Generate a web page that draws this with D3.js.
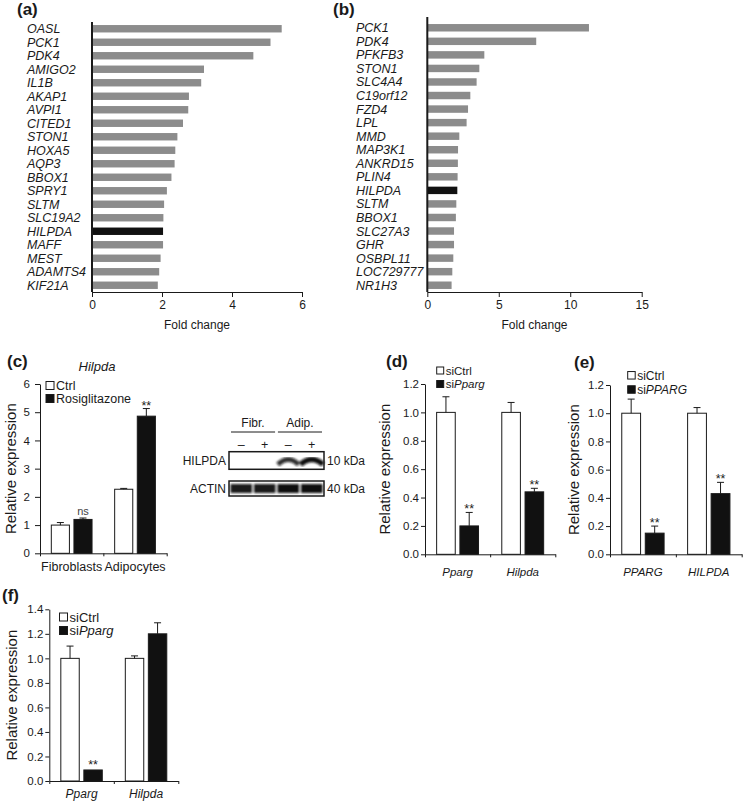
<!DOCTYPE html>
<html>
<head>
<meta charset="utf-8">
<script src="https://cdn.jsdelivr.net/npm/d3@7"></script>
<style>
  body { margin: 0; background: #fff; }
  svg { font-family: "Liberation Sans", Arial, Helvetica, sans-serif; }
</style>
</head>
<body>
<svg id="fig" width="744" height="802"></svg>
<script>
// ---- data ----
// (a) top induced genes, fold change
const aGenes = ["OASL", "PCK1", "PDK4", "AMIGO2", "IL1B", "AKAP1", "AVPI1", "CITED1", "STON1", "HOXA5",
  "AQP3", "BBOX1", "SPRY1", "SLTM", "SLC19A2", "HILPDA", "MAFF", "MEST", "ADAMTS4", "KIF21A"];
const aFold = [5.42, 5.10, 4.61, 3.20, 3.12, 2.77, 2.75, 2.60, 2.44, 2.38,
  2.36, 2.27, 2.14, 2.06, 2.04, 2.03, 2.03, 1.96, 1.92, 1.88];
const aTicks = [0, 2, 4, 6];

// (b)
const bGenes = ["PCK1", "PDK4", "PFKFB3", "STON1", "SLC4A4", "C19orf12", "FZD4", "LPL", "MMD", "MAP3K1",
  "ANKRD15", "PLIN4", "HILPDA", "SLTM", "BBOX1", "SLC27A3", "GHR", "OSBPL11", "LOC729777", "NR1H3"];
const bFold = [11.31, 7.62, 3.99, 3.64, 3.45, 3.01, 2.85, 2.75, 2.24, 2.15,
  2.14, 2.12, 2.10, 2.03, 2.00, 1.87, 1.87, 1.82, 1.75, 1.70];
const bTicks = [0, 5, 10, 15];

// (c) Hilpda, rosiglitazone
const cCats = ["Fibroblasts", "Adipocytes"];
const cCtrl = [1.00, 2.27];
const cCtrlErr = [0.09, 0.03];
const cRosi = [1.20, 4.86];
const cRosiErr = [0.05, 0.27];
const cSig = ["ns", "**"];
const cTicks = [0, 1, 2, 3, 4, 5, 6];

// western blot
const blotGroups = ["Fibr.", "Adip."];
const blotRosi = ["\u2013", "+", "\u2013", "+"];
const hilpdaSignal = [0, 0, 0.7, 1];
const actinSignal = [0.95, 0.95, 1, 1];

// (d) siPparg
const dCats = ["Pparg", "Hilpda"];
const dCtrl = [1.00, 1.00];
const dCtrlErr = [0.11, 0.07];
const dSi = [0.20, 0.44];
const dSiErr = [0.095, 0.025];
const dSig = ["**", "**"];

// (e) siPPARG (human)
const eCats = ["PPARG", "HILPDA"];
const eCtrl = [1.00, 1.00];
const eCtrlErr = [0.10, 0.04];
const eSi = [0.15, 0.43];
const eSiErr = [0.05, 0.08];
const eSig = ["**", "**"];

const relTicks12 = [0, 0.2, 0.4, 0.6, 0.8, 1.0, 1.2];

// (f) siPparg
const fCats = ["Pparg", "Hilpda"];
const fCtrl = [1.00, 1.00];
const fCtrlErr = [0.10, 0.02];
const fSi = [0.09, 1.20];
const fSiErr = [0, 0.09];
const fSig = ["**", ""];
const relTicks14 = [0, 0.2, 0.4, 0.6, 0.8, 1.0, 1.2, 1.4];

const INK = "#1a1a1a";
const svg = d3.select("#fig");

svg.append("defs").append("filter").attr("id", "blur")
  .attr("x", "-20%").attr("y", "-50%").attr("width", "140%").attr("height", "200%")
  .append("feGaussianBlur").attr("stdDeviation", 0.9);

function panelTitle(label, x, y) {
  svg.append("text").attr("x", x).attr("y", y)
    .attr("font-size", 17).attr("font-weight", "bold").attr("fill", INK)
    .text(label);
}

function styleAxis(ax, size) {
  ax.attr("font-family", null).attr("font-size", size);
  ax.selectAll("path, line").attr("stroke", INK);
  ax.selectAll("text").attr("fill", INK);
}

// horizontal fold-change bars, panels a and b
function foldPanel(genes, fold, ticks, o) {
  const g = svg.append("g");
  const x = d3.scaleLinear().domain([0, ticks[ticks.length - 1]]).range([o.x0, o.x1]);
  const y = d3.scaleBand().domain(genes).range([o.y0, 292])
    .paddingInner(0.45).paddingOuter(0.225);

  g.selectAll("rect").data(genes).join("rect")
    .attr("x", x(0))
    .attr("y", d => y(d))
    .attr("width", (d, i) => x(fold[i]) - x(0))
    .attr("height", y.bandwidth())
    .attr("fill", d => d === "HILPDA" ? "#111" : "#8c8c8c");

  g.selectAll("text.gene").data(genes).join("text")
    .attr("class", "gene")
    .attr("x", o.labelX)
    .attr("y", d => y(d) + y.bandwidth() / 2)
    .attr("dy", "0.36em")
    .attr("font-size", 12.5).attr("font-style", "italic").attr("fill", INK)
    .text(d => d);

  const ax = g.append("g").attr("transform", "translate(0,292)")
    .call(d3.axisBottom(x).tickValues(ticks).tickFormat(d3.format("d"))
      .tickSize(5).tickPadding(3).tickSizeOuter(0));
  styleAxis(ax, 12);

  g.append("line")
    .attr("x1", x(0)).attr("x2", x(0)).attr("y1", o.lineTop).attr("y2", 292)
    .attr("stroke", INK).attr("stroke-width", 2);

  g.append("text")
    .attr("x", (o.x0 + o.x1) / 2).attr("y", 329)
    .attr("text-anchor", "middle").attr("font-size", 12).attr("fill", INK)
    .text("Fold change");
}

function legend(x, rows, size, fontSize, items) {
  const g = svg.append("g");
  items.forEach((it, i) => {
    g.append("rect")
      .attr("x", x).attr("y", rows[i] - size / 2)
      .attr("width", size).attr("height", size)
      .attr("fill", i ? "#111" : "#fff").attr("stroke", INK).attr("stroke-width", 1);
    const t = g.append("text")
      .attr("x", x + size + 2).attr("y", rows[i]).attr("dy", "0.36em")
      .attr("font-size", fontSize).attr("fill", INK);
    t.append("tspan").text(it[0]);
    if (it[1]) t.append("tspan").attr("font-style", "italic").text(it[1]);
  });
}

// grouped bar chart with one-sided error bars
function exprPanel(p) {
  const g = svg.append("g");
  const y = d3.scaleLinear().domain([0, p.ticks[p.ticks.length - 1]]).range([p.yBot, p.yTop]);
  const x = d3.scaleBand().domain(p.cats).range([p.x0, p.x1]);
  const sub = d3.scaleBand().domain([0, 1]).range([0, x.bandwidth()])
    .paddingInner(0.2).paddingOuter(0.5);

  const rows = p.cats.flatMap((c, i) => [
    { cat: c, k: 0, v: p.ctrl[i], e: p.ctrlErr[i], s: "" },
    { cat: c, k: 1, v: p.trt[i], e: p.trtErr[i], s: p.sig[i] }
  ]);
  const cx = d => x(d.cat) + sub(d.k) + sub.bandwidth() / 2;

  g.selectAll("rect").data(rows).join("rect")
    .attr("x", d => x(d.cat) + sub(d.k))
    .attr("y", d => y(d.v))
    .attr("width", sub.bandwidth())
    .attr("height", d => y(0) - y(d.v))
    .attr("fill", d => d.k ? "#111" : "#fff")
    .attr("stroke", INK).attr("stroke-width", 1);

  g.selectAll("path.err").data(rows.filter(d => d.e > 0)).join("path")
    .attr("class", "err")
    .attr("d", d => `M${cx(d)},${y(d.v)}V${y(d.v + d.e)}M${cx(d) - 3.5},${y(d.v + d.e)}h7`)
    .attr("fill", "none").attr("stroke", INK).attr("stroke-width", 1);

  g.selectAll("text.sig").data(rows.filter(d => d.s)).join("text")
    .attr("class", "sig")
    .attr("x", cx)
    .attr("y", d => d.s === "ns" ? y(d.v + d.e) - 3 : y(d.v + d.e) + (d.e > 0 ? 1 : -1))
    .attr("text-anchor", "middle")
    .attr("font-size", d => d.s === "ns" ? 11 : 12.5)
    .attr("fill", d => d.s === "ns" ? "#444" : INK)
    .text(d => d.s);

  const ya = g.append("g").attr("transform", `translate(${p.x0},0)`)
    .call(d3.axisLeft(y).tickValues(p.ticks).tickFormat(p.fmt)
      .tickSize(p.tick).tickPadding(p.pad).tickSizeOuter(0));
  styleAxis(ya, 11.5);

  const xb = d3.scaleLinear().domain([0, p.cats.length]).range([p.x0, p.x1]);
  const xa = g.append("g").attr("transform", `translate(0,${p.yBot})`)
    .call(d3.axisBottom(xb).tickValues(d3.range(p.cats.length + 1))
      .tickFormat("").tickSize(3).tickSizeOuter(0));
  styleAxis(xa, 11);

  g.selectAll("text.cat").data(p.cats).join("text")
    .attr("class", "cat")
    .attr("x", d => x(d) + x.bandwidth() / 2)
    .attr("y", p.yBot + p.labDy).attr("dy", "0.36em")
    .attr("text-anchor", "middle")
    .attr("font-size", p.labFont)
    .attr("font-style", p.italic ? "italic" : null)
    .attr("fill", INK)
    .text(d => d);

  g.append("text")
    .attr("transform", `translate(${p.ylabX},${(p.yBot + p.yTop) / 2}) rotate(-90)`)
    .attr("dy", "0.36em").attr("text-anchor", "middle")
    .attr("font-size", 15).attr("fill", INK)
    .text("Relative expression");
}

// ---- panel a / b ----
panelTitle("(a)", 17, 15);
foldPanel(aGenes, aFold, aTicks, { x0: 92, x1: 302, y0: 22, lineTop: 22, labelX: 27 });
panelTitle("(b)", 333, 15);
foldPanel(bGenes, bFold, bTicks, { x0: 427.3, x1: 641.7, y0: 21, lineTop: 17, labelX: 356 });

// ---- panel c ----
panelTitle("(c)", 7, 367);
svg.append("text").attr("x", 97).attr("y", 366).attr("dy", "0.36em")
  .attr("text-anchor", "middle").attr("font-size", 13).attr("font-style", "italic")
  .attr("fill", INK).text("Hilpda");
exprPanel({
  cats: cCats, ctrl: cCtrl, ctrlErr: cCtrlErr, trt: cRosi, trtErr: cRosiErr, sig: cSig,
  ticks: cTicks, fmt: d3.format("d"), x0: 40, x1: 166.7, yBot: 553.3, yTop: 384,
  tick: 5, pad: 5, labDy: 13.4, labFont: 12.5, italic: false, ylabX: 11
});
legend(46, [385.5, 398.5], 8, 12.5, [["Ctrl", ""], ["Rosiglitazone", ""]]);

// ---- western blot ----
const blot = svg.append("g");
const lane = d3.scaleBand().domain(d3.range(4)).range([229, 324]).padding(0.04);
const grp = d3.scaleBand().domain(blotGroups).range([231, 322]).paddingInner(0.06);
blot.selectAll("text.grp").data(blotGroups).join("text")
  .attr("x", d => grp(d) + grp.bandwidth() / 2).attr("y", 427)
  .attr("text-anchor", "middle").attr("font-size", 12).attr("fill", INK).text(d => d);
blot.selectAll("line.grp").data(blotGroups).join("line")
  .attr("x1", d => grp(d)).attr("x2", d => grp(d) + grp.bandwidth())
  .attr("y1", 432).attr("y2", 432).attr("stroke", INK).attr("stroke-width", 1);
blot.selectAll("text.sign").data(blotRosi).join("text")
  .attr("x", (d, i) => lane(i) + lane.bandwidth() / 2).attr("y", 444).attr("dy", "0.36em")
  .attr("text-anchor", "middle").attr("font-size", 12.5).attr("fill", INK).text(d => d);

const blotRows = [
  { name: "HILPDA", kda: "10 kDa", top: 451.7, h: 17.6, sig: hilpdaSignal },
  { name: "ACTIN", kda: "40 kDa", top: 481, h: 15, sig: actinSignal }
];
blotRows.forEach(r => {
  const mid = r.top + r.h / 2;
  blot.append("text").attr("x", 226).attr("y", mid).attr("dy", "0.36em")
    .attr("text-anchor", "end").attr("font-size", 12).attr("fill", INK).text(r.name);
  blot.append("text").attr("x", 327).attr("y", mid).attr("dy", "0.36em")
    .attr("font-size", 12).attr("fill", INK).text(r.kda);
  const bands = blot.append("g").attr("filter", "url(#blur)");
  if (r.name === "HILPDA") {
    bands.selectAll("path").data(r.sig.map((v, i) => ({ v, i })).filter(d => d.v > 0)).join("path")
      .attr("d", d => {
        const c = lane(d.i) + lane.bandwidth() / 2, w = lane.bandwidth() * (0.75 + 0.25 * d.v) / 2;
        return `M${c - w},${mid + 4}Q${c},${mid - 6} ${c + w},${mid + 4}`;
      })
      .attr("fill", "none").attr("stroke", "#111")
      .attr("stroke-width", d => 2.5 + 3 * d.v)
      .attr("opacity", d => 0.55 + 0.45 * d.v);
  } else {
    bands.selectAll("rect").data(r.sig).join("rect")
      .attr("x", (d, i) => lane(i) + 0.5).attr("width", lane.bandwidth() - 1)
      .attr("y", mid - 4.5).attr("height", 9)
      .attr("fill", "#111").attr("opacity", d => d);
  }
  blot.append("rect").attr("x", 229).attr("y", r.top).attr("width", 95).attr("height", r.h)
    .attr("fill", "none").attr("stroke", INK).attr("stroke-width", 1.5);
});

// ---- panel d ----
panelTitle("(d)", 386, 367);
exprPanel({
  cats: dCats, ctrl: dCtrl, ctrlErr: dCtrlErr, trt: dSi, trtErr: dSiErr, sig: dSig,
  ticks: relTicks12, fmt: d3.format(".1f"), x0: 425, x1: 555.3, yBot: 554.3, yTop: 384,
  tick: 4, pad: 2, labDy: 17.4, labFont: 11.5, italic: true, ylabX: 385
});
legend(436.7, [370.5, 384], 7, 11.5, [["siCtrl", ""], ["si", "Pparg"]]);

// ---- panel e ----
panelTitle("(e)", 574, 368);
exprPanel({
  cats: eCats, ctrl: eCtrl, ctrlErr: eCtrlErr, trt: eSi, trtErr: eSiErr, sig: eSig,
  ticks: relTicks12, fmt: d3.format(".1f"), x0: 610, x1: 741.7, yBot: 554.3, yTop: 385,
  tick: 4, pad: 2, labDy: 17.7, labFont: 11.5, italic: true, ylabX: 574
});
legend(627.7, [375.3, 389.5], 7.5, 12, [["siCtrl", ""], ["si", "PPARG"]]);

// ---- panel f ----
panelTitle("(f)", 2, 601);
exprPanel({
  cats: fCats, ctrl: fCtrl, ctrlErr: fCtrlErr, trt: fSi, trtErr: fSiErr, sig: fSig,
  ticks: relTicks14, fmt: d3.format(".1f"), x0: 49.3, x1: 178.3, yBot: 781, yTop: 609.3,
  tick: 4, pad: 2, labDy: 12.5, labFont: 12, italic: true, ylabX: 12
});
legend(59.5, [617, 630.5], 8, 13, [["siCtrl", ""], ["si", "Pparg"]]);
</script>
</body>
</html>
